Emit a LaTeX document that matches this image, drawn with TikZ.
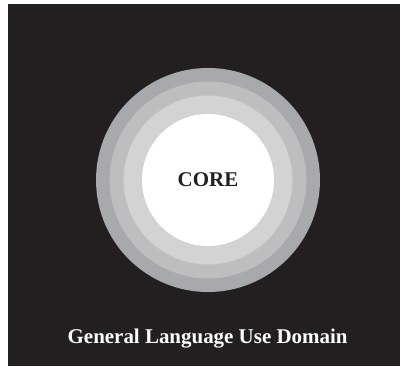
\documentclass[tikz,border=0pt]{standalone}
\usepackage{fontspec}
\setmainfont{Liberation Serif}
\usepackage{tikz}
\usetikzlibrary{positioning}
\usepackage{xcolor}

\definecolor{domainbg}{HTML}{231F20}
\definecolor{ringouter}{HTML}{A7A9AC}
\definecolor{ringmid}{HTML}{BCBEC0}
\definecolor{ringinner}{HTML}{D1D3D4}

\begin{document}
\begin{tikzpicture}[
    ring/.style={circle, draw=none, inner sep=0pt},
    domaintext/.style={font=\fontsize{14.9pt}{17pt}\selectfont\bfseries}
]
    \useasboundingbox (0,0) rectangle (10,9.15);
    \fill[domainbg] (0.2,0) rectangle (10,9.05);

    % concentric rings round the core
    \node[ring, fill=ringouter, minimum size=5.6cm] (outer) at (5.2,4.65) {};
    \node[ring, fill=ringmid, minimum size=4.92cm] (middle) at (outer.center) {};
    \node[ring, fill=ringinner, minimum size=4.22cm] (inner) at (outer.center) {};
    \node[ring, fill=white, minimum size=3.3cm, domaintext, text=domainbg] (core) at (outer.center) {CORE};

    \node[domaintext, text=white, anchor=base] (domain) at (5.19,0.575) {General Language Use Domain};
\end{tikzpicture}
\end{document}
